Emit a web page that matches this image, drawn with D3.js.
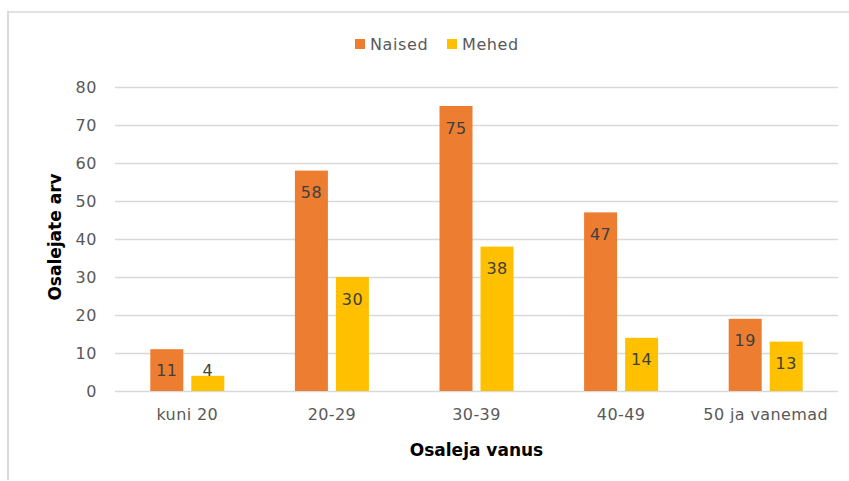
<!DOCTYPE html>
<html>
<head>
<meta charset="utf-8">
<script src="https://cdn.jsdelivr.net/npm/d3@7"></script>
<style>
  html, body { margin: 0; padding: 0; background: #fff; }
  svg { display: block; font-family: "DejaVu Sans", sans-serif; }
</style>
</head>
<body>
<svg id="chart" width="849" height="481"></svg>
<script>
const categories = ["kuni 20", "20-29", "30-39", "40-49", "50 ja vanemad"];
const seriesNames = ["Naised", "Mehed"];
const naised = [11, 58, 75, 47, 19];
const mehed = [4, 30, 38, 14, 13];
const yTicks = [0, 10, 20, 30, 40, 50, 60, 70, 80];
const colors = ["#ED7D31", "#FFC000"];
const yTitle = "Osalejate arv";
const xTitle = "Osaleja vanus";

const svg = d3.select("#chart");
const W = 849, H = 481;

// outer frame (chart area border)
svg.append("line").attr("x1", 8).attr("x2", 8).attr("y1", 11).attr("y2", 480)
  .attr("stroke", "#D9D9D9").attr("stroke-width", 2);
svg.append("line").attr("x1", 7).attr("x2", W).attr("y1", 12).attr("y2", 12)
  .attr("stroke", "#D9D9D9").attr("stroke-width", 1.5);

const plot = { left: 115, right: 838, top: 87, bottom: 391 };

const x0 = d3.scaleBand().domain(categories).range([plot.left, plot.right]).padding(0);
const y = d3.scaleLinear().domain([0, 80]).range([plot.bottom, plot.top]);

// gridlines
svg.append("g").selectAll("line").data(yTicks).join("line")
  .attr("x1", plot.left).attr("x2", plot.right)
  .attr("y1", d => Math.round(y(d)) + 0.5).attr("y2", d => Math.round(y(d)) + 0.5)
  .attr("stroke", "#D9D9D9").attr("stroke-width", 1.5);

// y axis labels
const yAxis = d3.axisLeft(y).tickValues(yTicks).tickSize(0).tickPadding(0);
const gy = svg.append("g").attr("transform", `translate(${plot.left - 18},0)`).call(yAxis);
gy.select(".domain").remove();
gy.selectAll("text").attr("fill", "#595959").style("font-size", "16px")
  .style("font-family", "DejaVu Sans, sans-serif").attr("dy", "0.35em")
  .style("letter-spacing", "0.6px");

// x axis labels
const xAxis = d3.axisBottom(x0).tickSize(0).tickPadding(0);
const gx = svg.append("g").attr("transform", `translate(0,${plot.bottom + 18})`).call(xAxis);
gx.select(".domain").remove();
gx.selectAll("text").attr("fill", "#595959").style("font-size", "16px")
  .style("font-family", "DejaVu Sans, sans-serif").attr("dy", "0.71em")
  .style("letter-spacing", "0.4px");

// bars
const barW = 33, gap = 8;
const x1 = d3.scaleOrdinal().domain(seriesNames).range([-(gap / 2) - barW, gap / 2]);
const data = categories.map((c, i) => ({ cat: c, values: [naised[i], mehed[i]] }));

const groups = svg.append("g").selectAll("g").data(data).join("g")
  .attr("transform", d => `translate(${x0(d.cat) + x0.bandwidth() / 2},0)`);

groups.selectAll("rect").data(d => d.values.map((v, j) => ({ v, s: seriesNames[j], j })))
  .join("rect")
  .attr("x", d => x1(d.s))
  .attr("width", barW)
  .attr("y", d => y(d.v))
  .attr("height", d => y(0) - y(d.v))
  .attr("fill", d => colors[d.j]);

groups.selectAll("text").data(d => d.values.map((v, j) => ({ v, s: seriesNames[j], j })))
  .join("text")
  .attr("x", d => x1(d.s) + barW / 2)
  .attr("y", d => Math.min(y(d.v) + 22, y(0) - 21))
  .attr("dy", "0.35em")
  .attr("text-anchor", "middle")
  .attr("fill", "#404040")
  .style("font-size", "16px")
  .style("letter-spacing", "0.4px")
  .text(d => d.v);

// axis titles
svg.append("text")
  .attr("transform", `translate(55,${(plot.top + plot.bottom) / 2 - 2}) rotate(-90)`)
  .attr("text-anchor", "middle").attr("dy", "0.35em")
  .attr("fill", "#000").style("font-weight", "bold").style("font-size", "17px")
  .text(yTitle);

svg.append("text")
  .attr("x", (plot.left + plot.right) / 2).attr("y", 450)
  .attr("text-anchor", "middle").attr("dy", "0.35em")
  .attr("fill", "#000").style("font-weight", "bold").style("font-size", "17px")
  .text(xTitle);

// legend
const legend = svg.append("g").attr("transform", "translate(355,44)");
const legendX = [0, 92];
seriesNames.forEach((s, i) => {
  const g = legend.append("g").attr("transform", `translate(${legendX[i]},0)`);
  g.append("rect").attr("x", 0).attr("y", -5).attr("width", 10).attr("height", 10).attr("fill", colors[i]);
  g.append("text").attr("x", 15).attr("y", 0).attr("dy", "0.35em")
    .attr("fill", "#595959").style("font-size", "16px").style("letter-spacing", "0.6px").text(s);
});
</script>
</body>
</html>
